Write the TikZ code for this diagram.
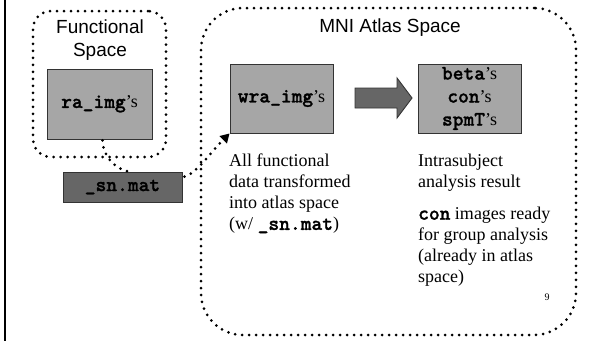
\documentclass[tikz,border=0pt]{standalone}
\usepackage{fontspec}
\setmainfont{Liberation Serif}
\setsansfont{Liberation Sans}
\newfontfamily\monobold{lmmonolt10-bold.otf}[FakeBold=1.2]
\usetikzlibrary{arrows.meta,calc}
\definecolor{boxgray}{HTML}{A6A6A6}
\definecolor{darkgray}{HTML}{666666}
\definecolor{edgegray}{HTML}{333333}
\newcommand{\mono}[1]{{\monobold\fontsize{20.5}{23}\selectfont #1}}
\begin{document}
\begin{tikzpicture}[x=1pt,y=-1pt,
  dotline/.style={line width=3pt, line cap=round, dash pattern=on 0pt off 7pt},
  container/.style={dotline, rounded corners=#1, draw, inner sep=0pt},
  imgbox/.style={draw=edgegray, line width=0.9pt, fill=boxgray, inner sep=0pt,
    font=\fontsize{18}{23}\selectfont, align=center},
  matbox/.style={draw=edgegray, line width=0.9pt, fill=darkgray, inner sep=0pt,
    font=\fontsize{18}{22}\selectfont},
  sanstitle/.style={font=\sffamily\fontsize{19}{23}\selectfont, align=center, inner sep=0pt},
  bodytext/.style={font=\fontsize{18}{21}\selectfont, align=left, anchor=north west, inner sep=0pt}
]
\useasboundingbox (0,0) rectangle (589,341);
\fill[white] (0,0) rectangle (589,341);
% left rule
\draw[line width=2.2pt] (5,0) -- (5,341);

% containers
\node[container=18pt, minimum width=133pt, minimum height=146pt] (func) at (99.5,84) {};
\node[container=42pt, minimum width=375pt, minimum height=327pt] (mni) at (388.5,171.5) {};

% titles
\node[sanstitle] (ftitle) at (100,40) {Functional\\Space};
\node[sanstitle] (mtitle) at (390,28) {MNI Atlas Space};

% boxes
\node[imgbox, minimum width=105pt, minimum height=70pt] (ra) at (99.5,104) {\mono{ra\_img}’s};
\node[imgbox, minimum width=103pt, minimum height=69pt] (wra) at (281.5,98.5) {\mono{wra\_img}’s};
\node[imgbox, minimum width=103pt, minimum height=69pt] (res) at (469.5,98.5)
  {\mono{beta}’s\\\mono{con}’s\\\mono{spmT}’s};
\node[matbox, minimum width=119pt, minimum height=30pt] (sn) at (122.5,187) {\mono{\_sn.mat}};

% block arrow
\filldraw[fill=darkgray, draw=edgegray, line width=0.9pt]
  (355,88) -- (397,88) -- (397,78) -- (412,98) -- (397,118) -- (397,108) -- (355,108) -- cycle;

% dotted connectors
\draw[dotline] ($(ra.south)+(3,1)$) .. controls (103,155) and (113,168) .. ($(sn.north)+(6,0)$);
\draw[dotline, -{Triangle[length=9pt,width=10pt]}] ($(sn.north east)+(2,5)$)
  .. controls (196,174) and (210,153) .. (wra.south west);

% texts
\node[bodytext] (lefttext) at (229,154) {All functional\\data transformed\\into atlas space\\(w/ \mono{\_sn.mat})};
\node[bodytext] (righttext1) at (418,154) {Intrasubject\\analysis result};
\node[bodytext] (righttext2) at (418,207) {\mono{con} images ready\\for group analysis\\(already in atlas\\space)};
\node[font=\fontsize{10}{12}\selectfont, inner sep=0pt] (pagenum) at (547,297) {9};
\end{tikzpicture}
\end{document}
